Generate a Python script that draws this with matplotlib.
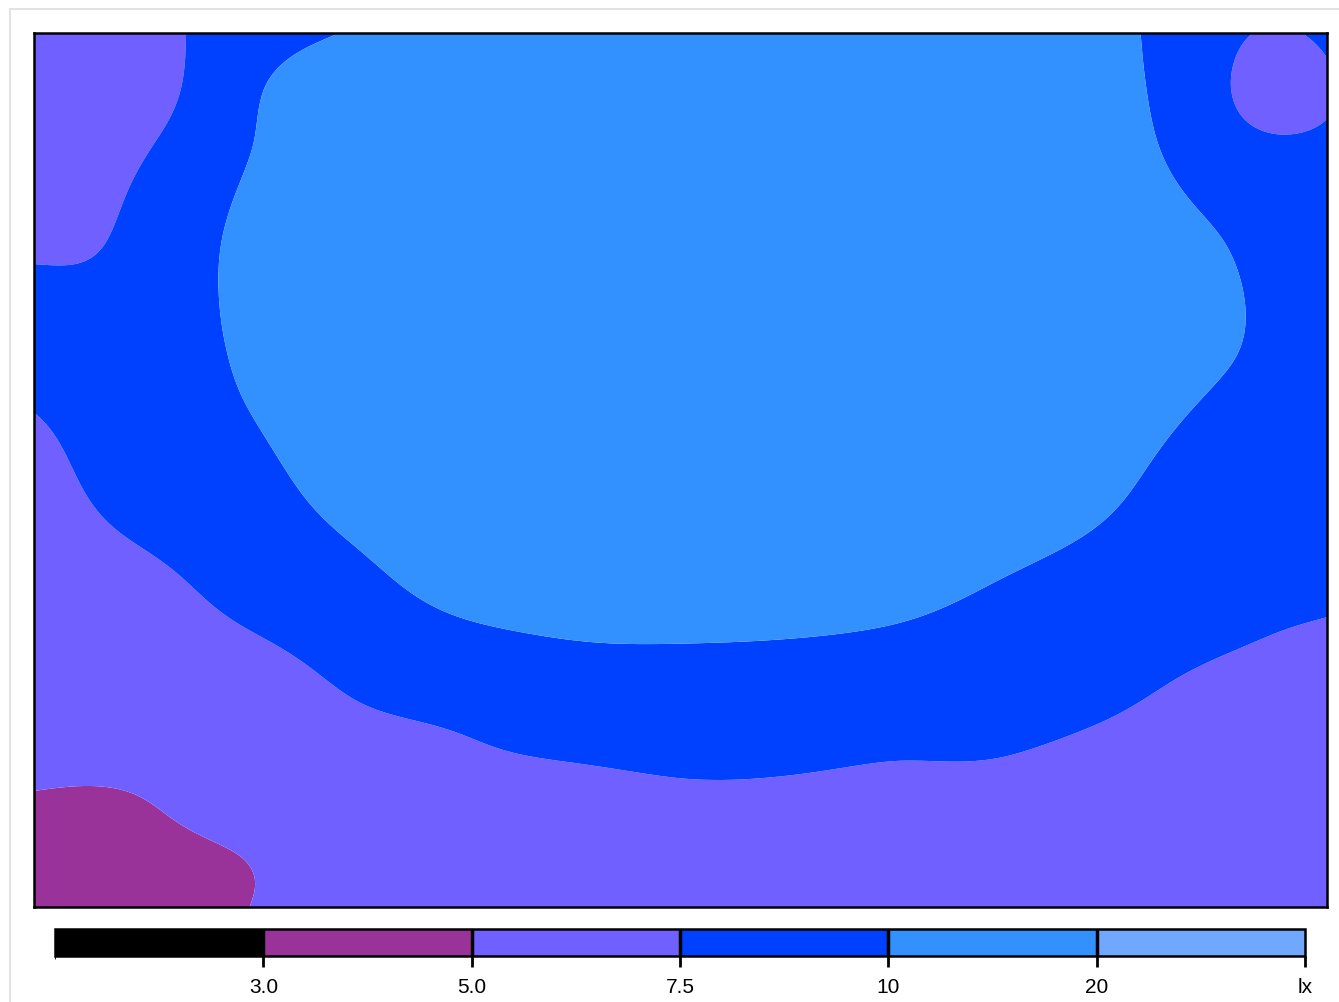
import numpy as np
import matplotlib
matplotlib.use('Agg')
import matplotlib.pyplot as plt
from matplotlib.colors import ListedColormap, BoundaryNorm
from matplotlib.cm import ScalarMappable
from matplotlib.patches import Rectangle

plt.rcParams['font.family'] = ['Liberation Sans', 'DejaVu Sans']

# measuring grid (m), y counted from the top wall
x_pos = [0, 1, 2, 3, 4, 5, 6, 7, 8, 9, 10, 11, 11.55, 12]
y_pos = [0, 0.5, 1, 2, 3, 4, 5, 6, 7, 7.5, 8]

# illuminance readings (lx), one list per row of the grid
r00 = [6.3, 6.8, 8.7, 10.25, 12.0, 13.5, 14.0, 14.0, 13.5, 12.5, 10.5, 8.4, 7.2, 8.2]
r01 = [6.2, 6.55, 9.6, 11.7, 13.0, 14.2, 14.8, 14.8, 14.2, 13.2, 10.7, 8.0, 6.0, 7.1]
r02 = [6.5, 7.25, 9.9, 11.9, 13.5, 14.8, 15.3, 15.3, 14.8, 13.8, 11.2, 8.6, 7.8, 8.0]
r03 = [7.35, 8.0, 10.8, 12.8, 14.5, 15.8, 16.3, 16.3, 15.8, 14.8, 12.5, 10.2, 9.2, 8.7]
r04 = [8.2, 8.6, 10.4, 12.5, 14.5, 15.8, 16.3, 16.3, 15.8, 14.8, 13.0, 10.3, 9.3, 8.9]
r05 = [6.5, 8.8, 9.5, 11.4, 13.3, 14.8, 15.3, 15.3, 14.7, 13.5, 11.0, 8.3, 8.0, 7.9]
r06 = [6.2, 7.0, 8.3, 9.4, 11.2, 11.8, 12.0, 12.0, 11.5, 9.95, 8.8, 8.2, 7.9, 7.76]
r07 = [6.0, 6.3, 6.7, 7.65, 8.1, 8.8, 8.9, 8.7, 8.3, 8.1, 7.8, 7.13, 6.9, 6.8]
r08 = [4.93, 5.0, 5.8, 6.5, 7.0, 7.05, 7.25, 7.25, 7.2, 7.1, 6.6, 6.3, 6.2, 6.2]
r09 = [4.5, 4.75, 5.08, 5.9, 6.3, 6.5, 6.6, 6.6, 6.6, 6.5, 6.2, 6.0, 5.9, 5.9]
r10 = [4.4, 4.6, 5.0, 5.6, 6.0, 6.2, 6.3, 6.3, 6.3, 6.2, 6.0, 5.8, 5.7, 5.7]

levels = [-100, 3, 5, 7.5, 10, 20, 1000]
tick_labels = ['3.0', '5.0', '7.5', '10', '20', 'lx']
colors = ['#000000', '#993399', '#7060ff', '#0040ff', '#3390ff', '#70a8ff']


def spline_matrix(xk, xf):
    # natural cubic spline as a linear map from knot values to values at xf
    xk = np.asarray(xk, float)
    n = len(xk)
    h = np.diff(xk)
    A = np.zeros((n, n))
    B = np.zeros((n, n))
    A[0, 0] = A[-1, -1] = 1
    for i in range(1, n - 1):
        A[i, i - 1] = h[i - 1] / 6
        A[i, i] = (h[i - 1] + h[i]) / 3
        A[i, i + 1] = h[i] / 6
        B[i, i - 1] = 1 / h[i - 1]
        B[i, i] = -1 / h[i - 1] - 1 / h[i]
        B[i, i + 1] = 1 / h[i]
    Mk = np.linalg.solve(A, B)
    idx = np.clip(np.searchsorted(xk, xf) - 1, 0, n - 2)
    out = np.zeros((len(xf), n))
    for j, (x, i) in enumerate(zip(xf, idx)):
        hi = h[i]
        a = xk[i + 1] - x
        b = x - xk[i]
        out[j] += (a ** 3 / (6 * hi) - a * hi / 6) * Mk[i] + (b ** 3 / (6 * hi) - b * hi / 6) * Mk[i + 1]
        out[j, i] += a / hi
        out[j, i + 1] += b / hi
    return out


lux = np.array([r00, r01, r02, r03, r04, r05, r06, r07, r08, r09, r10])
xf = np.linspace(x_pos[0], x_pos[-1], 600)
yf = np.linspace(y_pos[0], y_pos[-1], 400)
lux_fine = spline_matrix(y_pos, yf) @ lux @ spline_matrix(x_pos, xf).T

fig = plt.figure(figsize=(13.39, 10.03), dpi=100)
fig.patches.append(Rectangle((10 / 1339, -0.1), 2, 1.1 - 10 / 1003, transform=fig.transFigure,
                             fill=False, edgecolor='#dddddd', lw=1.2))

ax = fig.add_axes([34 / 1339, 95 / 1003, 1293 / 1339, 874 / 1003])
ax.contourf(xf, yf, lux_fine, levels=levels, colors=colors, antialiased=True)
ax.set_xlim(0, 12)
ax.set_ylim(8, 0)
ax.set_xticks([])
ax.set_yticks([])
for s in ax.spines.values():
    s.set_linewidth(1.8)
    s.set_color('black')
    s.set_zorder(5)

# legend bar with equal-width classes
cax = fig.add_axes([55 / 1339, 46 / 1003, 1250 / 1339, 27 / 1003])
cmap = ListedColormap(colors)
norm = BoundaryNorm(np.arange(len(colors) + 1), len(colors))
cb = fig.colorbar(ScalarMappable(norm=norm, cmap=cmap), cax=cax, orientation='horizontal',
                  drawedges=True)
cb.outline.set_linewidth(1.8)
cb.dividers.set_linewidth(2.5)
cb.set_ticks(np.arange(1, len(colors) + 1))
cb.set_ticklabels(tick_labels)
cax.tick_params(axis='x', length=8, width=2, labelsize=15, pad=7, colors='black')

fig.savefig('out.png', dpi=100)
